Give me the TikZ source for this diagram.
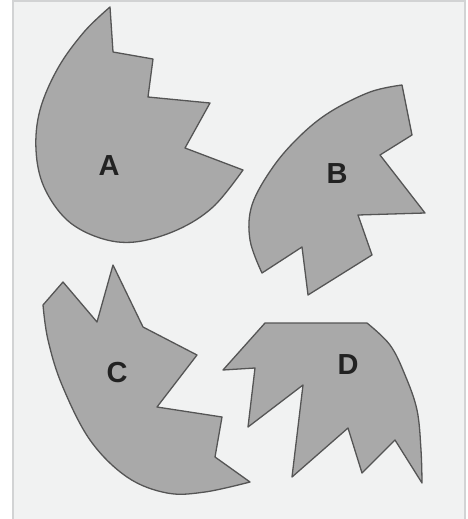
\documentclass[tikz,border=0pt]{standalone}
\usepackage{fontspec}
\setmainfont{Liberation Sans}
\begin{document}
\begin{tikzpicture}[x=1pt,y=-1pt,
  piece/.style={fill=piecegray,draw=edgegray,line width=1.3pt,line join=round},
  letter/.style={font=\fontsize{29}{29}\selectfont\bfseries,text=lettergray,inner sep=0pt}]
\definecolor{piecegray}{HTML}{A9A9A9}
\definecolor{edgegray}{HTML}{555555}
\definecolor{lettergray}{HTML}{222222}
\definecolor{bggray}{HTML}{F1F2F2}
\definecolor{framegray}{HTML}{D2D3D4}
\useasboundingbox (0,0) rectangle (467,519);
\fill[white] (0,0) rectangle (467,519);
\fill[bggray] (13,1.5) rectangle (465,519);
\draw[framegray,line width=2pt] (13,519) -- (13,1.5) -- (465,1.5) -- (465,519);
% Piece A
\path[piece] (110,7) -- (113,52) -- (153,59) -- (148,97) -- (210,103) -- (185,148) -- (243,170)
  -- plot[smooth,tension=0.6] coordinates {(243,170) (213,207) (177,230) (135,242) (100,238) (67,220) (44,187) (36,150) (40,110) (58,68) (84,32) (110,7)} -- cycle;
% Piece B
\path[piece] (402,85) -- (412,135) -- (380,155) -- (425,213) -- (358,215) -- (372,255) -- (308,295) -- (302,247) -- (262,273)
  -- plot[smooth,tension=0.6] coordinates {(262,273) (250,240) (252,205) (273,167) (300,136) (330,112) (370,92) (402,85)} -- cycle;
% Piece C
\path[piece] (43,305) -- (63,282) -- (97,322) -- (113,265) -- (143,327) -- (197,355) -- (157,407) -- (222,417) -- (215,457) -- (250,482)
  -- plot[smooth,tension=0.6] coordinates {(250,482) (205,492) (167,493) (127,477) (90,440) (62,385) (48,340) (43,305)} -- cycle;
% Piece D
\path[piece] (265,323) -- (367,323)
  -- plot[smooth,tension=0.6] coordinates {(367,323) (390,345) (405,375) (417,410) (421,450) (422,483)}
  -- (395,440) -- (362,473) -- (348,428) -- (292,477) -- (303,385) -- (248,427) -- (255,368) -- (223,370) -- cycle;
% Labels
\node[letter] (la) at (109,166) {A};
\node[letter] (lb) at (337,174) {B};
\node[letter] (lc) at (117,373) {C};
\node[letter] (ld) at (348,365) {D};
\end{tikzpicture}
\end{document}
